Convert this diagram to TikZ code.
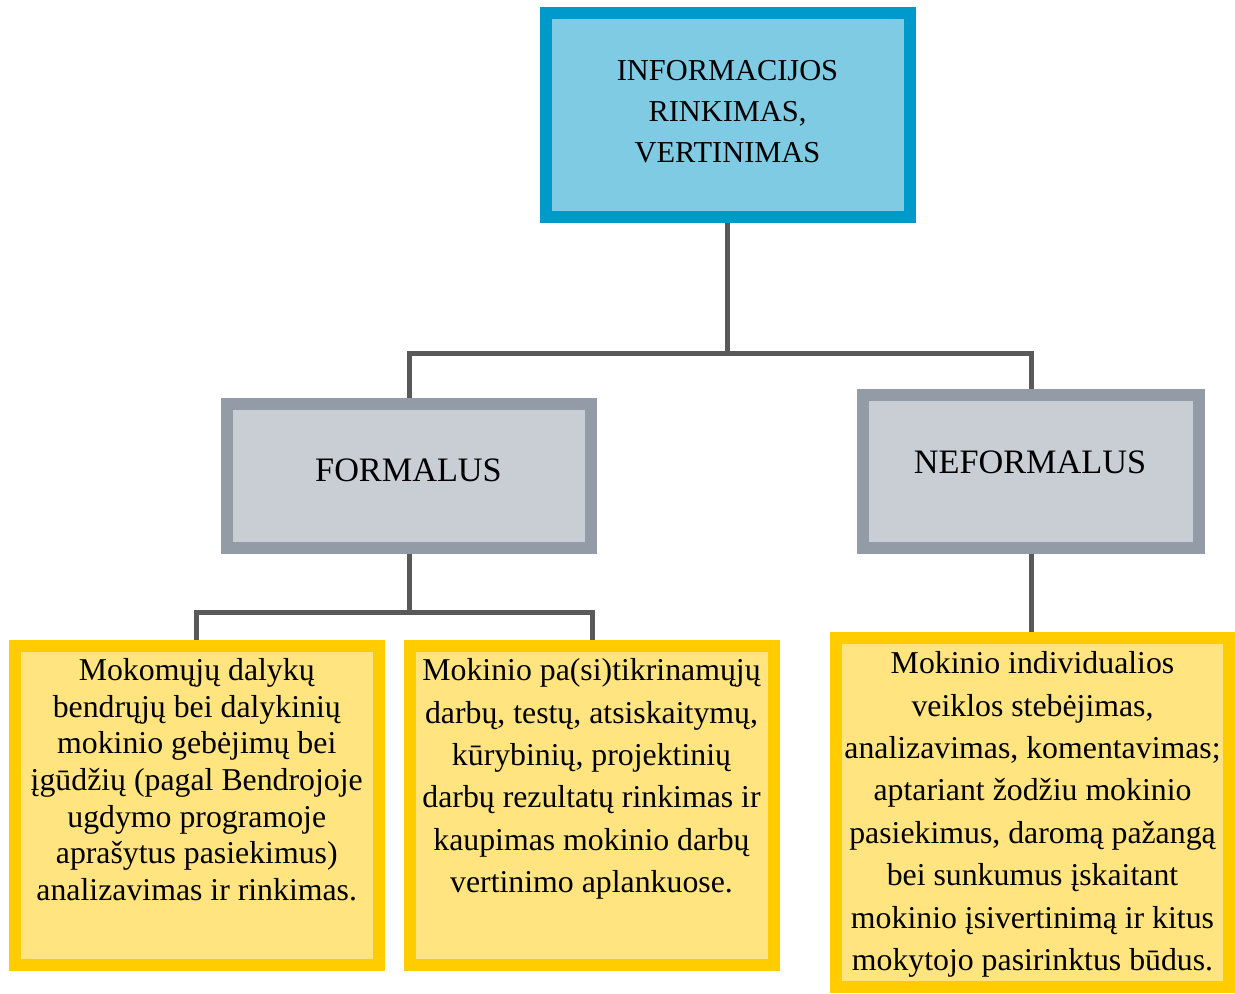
\documentclass[tikz,border=0pt]{standalone}
\usepackage{fontspec}
\setmainfont{Liberation Serif}
\definecolor{topborder}{HTML}{0099CC}
\definecolor{topfill}{HTML}{7FCBE4}
\definecolor{grayborder}{HTML}{939CA6}
\definecolor{grayfill}{HTML}{C9CED5}
\definecolor{yelborder}{HTML}{FFCC00}
\definecolor{yelfill}{HTML}{FFE480}
\definecolor{connector}{HTML}{595959}
\begin{document}
\begin{tikzpicture}[x=0.75pt,y=-0.75pt,
  boxbase/.style={rectangle, line width=9pt, inner sep=0pt},
  topbox/.style={boxbase, draw=topborder, fill=topfill},
  graybox/.style={boxbase, draw=grayborder, fill=grayfill},
  yelbox/.style={boxbase, draw=yelborder, fill=yelfill},
  conn/.style={draw=connector, line width=3.75pt},
  txt/.style={inner sep=0pt, align=center, text=black}
]
\useasboundingbox (0,0) rectangle (1235,994);
% boxes
\node[topbox, minimum width={364.5*0.75pt}, minimum height={204.5*0.75pt}] (top) at (727.75,115.25) {};
\node[graybox, minimum width={364*0.75pt}, minimum height={144*0.75pt}] (form) at (409,476) {};
\node[graybox, minimum width={336*0.75pt}, minimum height={153*0.75pt}] (neform) at (1031,471.5) {};
\node[yelbox, minimum width={364.5*0.75pt}, minimum height={319.5*0.75pt}] (b1) at (196.75,805.25) {};
\node[yelbox, minimum width={364*0.75pt}, minimum height={319.5*0.75pt}] (b2) at (591.5,805.25) {};
\node[yelbox, minimum width={393*0.75pt}, minimum height={349*0.75pt}] (b3) at (1032.5,812.5) {};
% connectors
\coordinate (j1) at (727.75,354);
\coordinate (j2) at (409,612);
\begin{scope}[on background layer/.style={}]
\draw[conn] (top.south) -- (j1) -| (form.north);
\draw[conn] (j1) -| (neform.north);
\draw[conn] (form.south) -- (j2);
\draw[conn] (j2) -| ([xshift={-0.75*0.75pt}]b1.north);
\draw[conn] (j2) -| ([xshift={0.5*0.75pt}]b2.north);
\draw[conn] (neform.south) -- (neform.south |- b3.north);
\end{scope}
% texts
\node[txt, anchor=north, font={\fontsize{22.8pt}{30.75pt}\selectfont}] (t0) at (727.5,60.5)
  {INFORMACIJOS\\RINKIMAS,\\VERTINIMAS};
\node[txt, anchor=base, font={\fontsize{25.7pt}{30pt}\selectfont}] (t1) at (408.5,482) {FORMALUS};
\node[txt, anchor=base, font={\fontsize{25.7pt}{30pt}\selectfont}] (t2) at (1030,474) {NEFORMALUS};
\node[txt, anchor=north, font={\fontsize{23.85pt}{27.5pt}\selectfont}] (t3) at (196.75,658.3)
  {Mokomųjų dalykų\\bendrųjų bei dalykinių\\mokinio gebėjimų bei\\įgūdžių (pagal Bendrojoje\\ugdymo programoje\\aprašytus pasiekimus)\\analizavimas ir rinkimas.};
\node[txt, anchor=north, font={\fontsize{23.85pt}{31.8pt}\selectfont}] (t4) at (591.5,658.3)
  {Mokinio pa(si)tikrinamųjų\\darbų, testų, atsiskaitymų,\\kūrybinių, projektinių\\darbų rezultatų rinkimas ir\\kaupimas mokinio darbų\\vertinimo aplankuose.};
\node[txt, anchor=north, font={\fontsize{23.85pt}{31.8pt}\selectfont}] (t5) at (1032.5,651.3)
  {Mokinio individualios\\veiklos stebėjimas,\\analizavimas, komentavimas;\\aptariant žodžiu mokinio\\pasiekimus, daromą pažangą\\bei sunkumus įskaitant\\mokinio įsivertinimą ir kitus\\mokytojo pasirinktus būdus.};
\end{tikzpicture}
\end{document}
